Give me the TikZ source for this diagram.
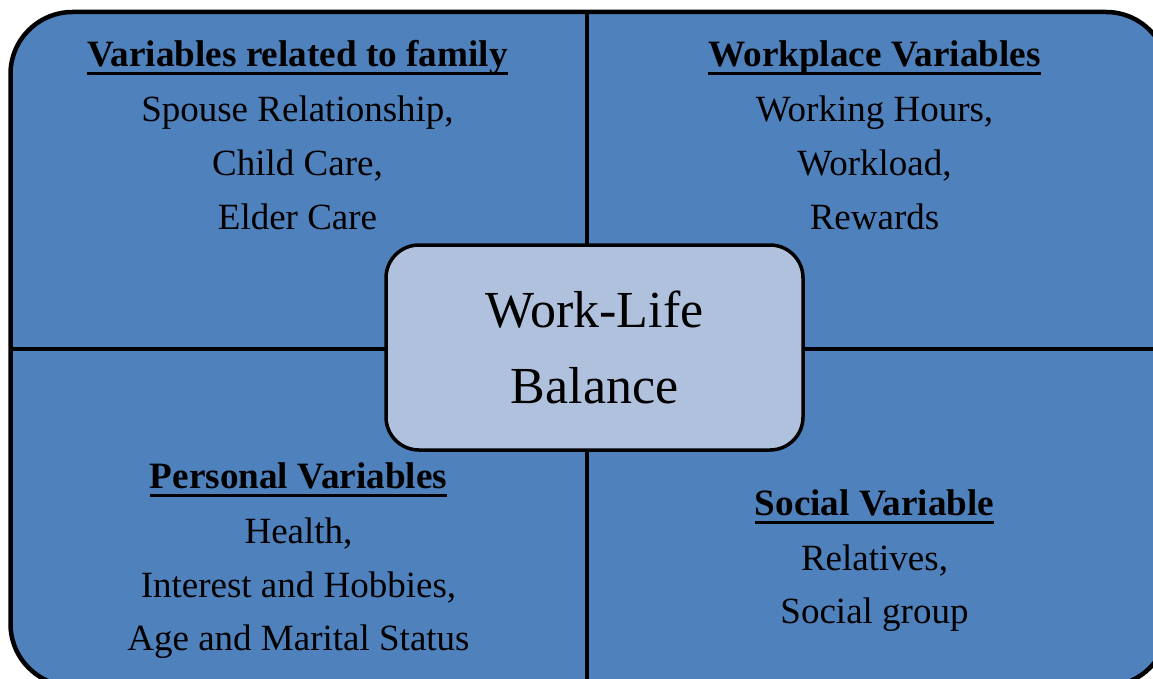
\documentclass[tikz,border=0pt]{standalone}
\usepackage{fontspec}
\setmainfont{Liberation Serif}
\definecolor{outerblue}{RGB}{79,129,189}
\definecolor{innerblue}{RGB}{176,193,221}
\begin{document}
\begin{tikzpicture}[x=1pt,y=-1pt,
  frame/.style={draw=black,line width=4.5pt,fill=outerblue,rounded corners=62pt},
  divider/.style={draw=black,line width=4.5pt},
  centerbox/.style={draw=black,line width=3.5pt,fill=innerblue,rounded corners=33pt,
    minimum width=417pt,minimum height=205pt,align=center,inner sep=0pt,
    font=\fontsize{52}{76}\selectfont},
  head/.style={font=\fontsize{37.2}{40}\selectfont\bfseries,inner sep=0pt,anchor=base},
  body/.style={font=\fontsize{37}{40}\selectfont,inner sep=0pt,anchor=base},
  uline/.style={draw=black,line width=3pt}]
\useasboundingbox (0,0) rectangle (1153,679);
\clip (0,0) rectangle (1153,679);
\path[frame] (10.5,12) rectangle (1168,686);
\draw[divider] (587,12) -- (587,686);
\draw[divider] (10.5,349) -- (1168,349);
\node[centerbox] (wlb) at (594.5,347.5) {Work-Life\\Balance};
% top left
\node[head] (tlh) at (297.5,67) {Variables related to family};
\draw[uline] ([yshift=-7pt]tlh.base west) -- ([yshift=-7pt]tlh.base east);
\node[body] (tl1) at (297.5,122) {Spouse Relationship,};
\node[body] (tl2) at (297.5,176) {Child Care,};
\node[body] (tl3) at (297.5,229) {Elder Care};
% top right
\node[head] (trh) at (874.5,67) {Workplace Variables};
\draw[uline] ([yshift=-7pt]trh.base west) -- ([yshift=-7pt]trh.base east);
\node[body] (tr1) at (874.5,122) {Working Hours,};
\node[body] (tr2) at (874.5,176) {Workload,};
\node[body] (tr3) at (874.5,229) {Rewards};
% bottom left
\node[head] (blh) at (298.5,488) {Personal Variables};
\draw[uline] ([yshift=-7pt]blh.base west) -- ([yshift=-7pt]blh.base east);
\node[body] (bl1) at (298.5,543) {Health,};
\node[body] (bl2) at (298.5,597) {Interest and Hobbies,};
\node[body] (bl3) at (298.5,650) {Age and Marital Status};
% bottom right
\node[head] (brh) at (874.5,515) {Social Variable};
\draw[uline] ([yshift=-7pt]brh.base west) -- ([yshift=-7pt]brh.base east);
\node[body] (br1) at (874.5,570) {Relatives,};
\node[body] (br2) at (874.5,623) {Social group};
\end{tikzpicture}
\end{document}
